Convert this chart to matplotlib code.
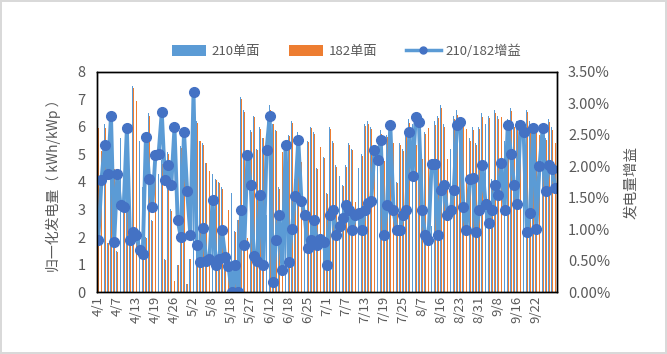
import matplotlib
matplotlib.use("Agg")
import matplotlib.pyplot as plt
import numpy as np
from matplotlib.ticker import FuncFormatter
from matplotlib.lines import Line2D
from matplotlib.patches import Patch

plt.rcParams['font.family'] = ['Noto Sans CJK SC', 'DejaVu Sans']

# x tick labels (every 6th category is labelled)
tick_labels = ['4/1', '4/7', '4/13', '4/19', '4/26', '5/2', '5/8', '5/18',
               '5/27', '6/12', '6/18', '6/25', '7/1', '7/7', '7/13', '7/19',
               '7/25', '8/7', '8/16', '8/23', '8/31', '9/8', '9/16', '9/22']

# 210 single-sided, normalised yield (kWh/kWp)
yield_210 = [
    6.0, 5.2, 6.1, 1.8, 6.0, 4.5,
    1.5, 5.6, 3.2, 6.0, 2.0, 7.5,
    7.0, 5.5, 3.8, 2.0, 6.5, 2.6,
    5.0, 4.3, 4.8, 1.2, 5.1, 3.0,
    0.4, 1.0, 5.3, 4.2, 0.3, 1.2,
    6.4, 6.2, 5.5, 5.4, 4.7, 4.4,
    4.3, 4.1, 4.0, 3.8, 1.4, 3.0,
    3.6, 2.2, 2.6, 7.1, 6.6, 2.0,
    5.9, 6.4, 5.2, 6.0, 5.6, 2.8,
    6.8, 6.1, 5.9, 3.8, 5.1, 5.4,
    5.7, 6.2, 4.1, 5.8, 4.8, 3.2,
    5.5, 6.0, 5.8, 4.5, 5.3, 4.9,
    3.6, 6.0, 5.5, 4.6, 4.2, 3.9,
    4.6, 5.4, 5.2, 3.3, 4.5, 5.0,
    6.1, 6.2, 6.0, 5.4, 5.2, 5.9,
    4.8, 5.7, 6.0, 5.5, 4.0, 5.4,
    5.2, 5.7, 6.3, 6.1, 5.5, 6.2,
    4.9, 5.8, 6.0, 2.4, 6.2, 6.4,
    6.8, 6.1, 4.9, 5.2, 6.4, 6.6,
    5.9, 6.3, 6.0, 5.6, 6.0, 5.4,
    6.0, 6.5, 6.1, 6.4, 4.1, 6.6,
    6.4, 6.5, 5.5, 6.3, 6.7, 6.1,
    6.2, 5.4, 5.8, 6.6, 6.2, 5.9,
    6.1, 5.8, 6.0, 5.6, 6.3, 6.0,
    5.5,
]

# 182 single-sided, normalised yield (kWh/kWp)
yield_182 = [
    5.95, 5.11, 5.96, 1.77, 5.84, 4.46,
    1.47, 5.52, 3.16, 5.85, 1.98, 7.43,
    6.94, 5.46, 3.78, 1.95, 6.39, 2.57,
    4.89, 4.21, 4.67, 1.18, 5.00, 2.95,
    0.39, 0.99, 5.25, 4.10, 0.30, 1.19,
    6.20, 6.15, 5.47, 5.35, 4.68, 4.38,
    4.24, 4.08, 3.98, 3.76, 1.39, 2.98,
    3.60, 2.19, 2.60, 7.01, 6.55, 1.96,
    5.80, 6.36, 5.17, 5.91, 5.58, 2.74,
    6.61, 6.09, 5.85, 3.75, 5.08, 5.28,
    5.67, 6.14, 4.04, 5.66, 4.73, 3.16,
    5.46, 5.95, 5.73, 4.47, 5.26, 4.86,
    3.58, 5.93, 5.43, 4.56, 4.16, 3.85,
    4.54, 5.33, 5.15, 3.26, 4.44, 4.95,
    6.02, 6.11, 5.91, 5.28, 5.09, 5.76,
    4.76, 5.62, 5.84, 5.43, 3.96, 5.35,
    5.14, 5.63, 6.14, 5.99, 5.35, 6.04,
    4.84, 5.75, 5.95, 2.35, 6.08, 6.34,
    6.69, 6.00, 4.84, 5.13, 6.30, 6.43,
    5.74, 6.22, 5.94, 5.50, 5.89, 5.35,
    5.92, 6.37, 6.02, 6.33, 4.05, 6.49,
    6.30, 6.37, 5.43, 6.14, 6.56, 6.00,
    6.11, 5.26, 5.66, 6.54, 6.12, 5.75,
    6.04, 5.69, 5.85, 5.51, 6.18, 5.89,
    5.41,
]

# 210/182 gain (%)
gain_pct = [
    0.83, 1.78, 2.34, 1.87, 2.80, 0.80,
    1.87, 1.38, 1.35, 2.60, 0.82, 0.95,
    0.90, 0.67, 0.60, 2.47, 1.80, 1.35,
    2.18, 2.20, 2.86, 1.78, 2.02, 1.70,
    2.62, 1.15, 0.87, 2.55, 1.60, 0.90,
    3.18, 0.75, 0.48, 1.02, 0.50, 0.52,
    1.46, 0.43, 0.52, 0.98, 0.55, 0.42,
    0.00, 0.43, 0.00, 1.30, 0.75, 2.18,
    1.70, 0.58, 0.50, 1.54, 0.43, 2.26,
    2.80, 0.16, 0.83, 1.22, 0.35, 2.34,
    0.48, 1.00, 1.52, 2.42, 1.45, 1.22,
    0.70, 0.83, 1.15, 0.75, 0.85, 0.80,
    0.43, 1.22, 1.30, 0.90, 1.05, 1.18,
    1.39, 1.30, 0.98, 1.22, 1.26, 0.98,
    1.30, 1.41, 1.45, 2.26, 2.10, 2.42,
    0.90, 1.38, 2.66, 1.30, 0.98, 0.98,
    1.22, 1.30, 2.55, 1.85, 2.78, 2.70,
    1.30, 0.90, 0.83, 2.03, 2.03, 0.90,
    1.62, 1.70, 1.22, 1.30, 1.62, 2.66,
    2.70, 1.35, 0.98, 1.80, 1.82, 0.95,
    1.30, 2.02, 1.40, 1.10, 1.30, 1.70,
    1.55, 2.05, 1.30, 2.66, 2.20, 1.70,
    1.40, 2.66, 2.55, 0.95, 1.25, 2.60,
    1.00, 2.00, 2.60, 1.60, 2.02, 1.95,
    1.65,
]

blue = '#5B9BD5'
orange = '#ED7D31'
marker_blue = '#4472C4'
grey_txt = '#595959'

x = np.arange(len(gain_pct))
bw = 0.27

fig = plt.figure(figsize=(6.67, 3.54), dpi=100)
fig.patch.set_edgecolor('#D9D9D9')
fig.patch.set_linewidth(1.5)
ax = fig.add_axes([0.145, 0.175, 0.69, 0.622])

ax.bar(x - bw / 2, yield_210, width=bw, color=blue, linewidth=0)
ax.bar(x + bw / 2, yield_182, width=bw, color=orange, linewidth=0)
ax.set_ylim(0, 8)
ax.set_yticks(np.arange(0, 9, 1))
ax.set_xlim(-0.5, len(x) - 0.5)
ax.set_xticks(x[::6][:len(tick_labels)])
ax.set_xticklabels(tick_labels, rotation=90, fontsize=9.5, color=grey_txt)
ax.tick_params(axis='x', length=0, pad=3)
ax.tick_params(axis='y', length=0, labelsize=10.5, labelcolor=grey_txt, pad=8)
ax.set_ylabel('归一化发电量（ kWh/kWp ）', fontsize=10, color=grey_txt, labelpad=12)
for s in ax.spines.values():
    s.set_color('black')
    s.set_linewidth(1)

ax2 = ax.twinx()
ax2.plot(x, gain_pct, color=blue, lw=2.8, marker='o', markersize=7,
         markerfacecolor=marker_blue, markeredgecolor=marker_blue)
ax2.set_ylim(0, 3.5)
ax2.set_yticks(np.arange(0, 3.51, 0.5))
ax2.yaxis.set_major_formatter(FuncFormatter(lambda v, p: '%.2f%%' % v))
ax2.tick_params(axis='y', length=0, labelsize=10.5, labelcolor=grey_txt, pad=8)
ax2.set_ylabel('发电量增益', fontsize=10.5, color=grey_txt, rotation=90, labelpad=10)
for s in ax2.spines.values():
    s.set_color('black')
    s.set_linewidth(1)

handles = [Patch(facecolor=blue, edgecolor='none'),
           Patch(facecolor=orange, edgecolor='none'),
           Line2D([0], [0], color=blue, lw=2.5, marker='o', markersize=5,
                  markerfacecolor=marker_blue, markeredgecolor=marker_blue)]
fig.legend(handles, ['210单面', '182单面', '210/182增益'], loc='center',
           bbox_to_anchor=(0.52, 0.855), ncol=3, frameon=False, fontsize=9.5,
           handlelength=2.6, handleheight=0.9, columnspacing=2.2,
           handletextpad=0.4, labelcolor=grey_txt)

fig.savefig('out.png', dpi=100)
